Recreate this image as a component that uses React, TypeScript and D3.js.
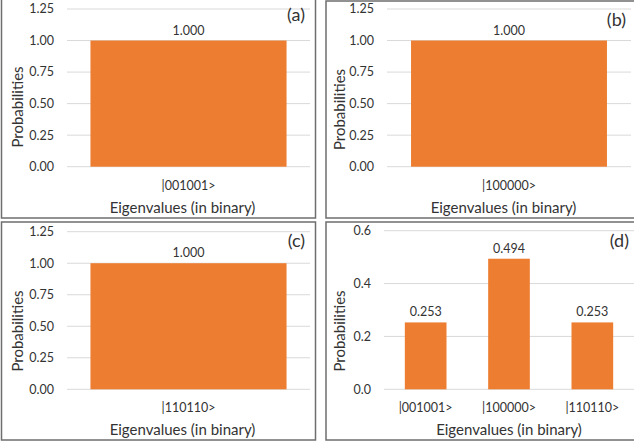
import React from 'react';
import * as d3 from 'd3';

// chart values
const panelTags = ['(a)', '(b)', '(c)', '(d)'];
const catsA = ['|001001>'];
const valsA = [1.0];
const catsB = ['|100000>'];
const valsB = [1.0];
const catsC = ['|110110>'];
const valsC = [1.0];
const catsD = ['|001001>', '|100000>', '|110110>'];
const valsD = [0.253, 0.494, 0.253];
const ticksFull = [0, 0.25, 0.5, 0.75, 1.0, 1.25];
const ticksD = [0, 0.2, 0.4, 0.6];

const yTitle = 'Probabilities';
const xTitle = 'Eigenvalues (in binary)';

const font = 'Lato, "Liberation Sans", sans-serif';
const barColor = '#ed7d31';
const gridColor = '#d9d9d9';
const textColor = '#333333';
const frameColor = '#6e6e6e';

type PanelProps = {
  tag: string;
  cats: string[];
  vals: number[];
  ticks: number[];
  fmtTick: (v: number) => string;
  frame: [number, number, number, number]; // x0, y0, x1, y1
  plot: [number, number, number, number];
  gap: number;
  yTitleX: number;
  xTitleX: number;
};

function Panel(p: PanelProps) {
  const [fx0, fy0, fx1, fy1] = p.frame;
  const [px0, py0, px1, py1] = p.plot;
  const y = d3.scaleLinear().domain([0, d3.max(p.ticks) as number]).range([py1, py0]);
  const x = d3.scaleBand<string>()
    .domain(p.cats)
    .range([px0, px1])
    .paddingInner(p.gap)
    .paddingOuter(p.gap / 2);
  const fmtVal = d3.format('.3f');
  const midY = (fy0 + fy1) / 2;

  return (
    <g fontFamily={font} fill={textColor}>
      <rect x={fx0} y={fy0} width={fx1 - fx0} height={fy1 - fy0}
        fill="white" stroke={frameColor} strokeWidth={1.5} />
      {p.ticks.map((t) => (
        <g key={t}>
          <line x1={px0} x2={px1} y1={y(t)} y2={y(t)} stroke={gridColor} strokeWidth={1} />
          <text x={px0 - 13} y={y(t)} dy="0.35em" textAnchor="end" fontSize={12.5}>
            {p.fmtTick(t)}
          </text>
        </g>
      ))}
      {p.cats.map((c, i) => (
        <g key={c}>
          <rect x={x(c)} y={y(p.vals[i])} width={x.bandwidth()} height={y(0) - y(p.vals[i])}
            fill={barColor} />
          <text x={(x(c) as number) + x.bandwidth() / 2} y={y(p.vals[i]) - 6}
            textAnchor="middle" fontSize={12.5}>
            {fmtVal(p.vals[i])}
          </text>
          <text x={(x(c) as number) + x.bandwidth() / 2} y={py1 + 23}
            textAnchor="middle" fontSize={12.5}>
            {c}
          </text>
        </g>
      ))}
      <text x={p.xTitleX} y={py1 + 46} textAnchor="middle" fontSize={15}>{xTitle}</text>
      <text transform={`translate(${p.yTitleX},${midY}) rotate(-90)`} dy="0.35em"
        textAnchor="middle" fontSize={15}>{yTitle}</text>
      <text x={px1 - 5} y={fy0 + 25} textAnchor="end" fontSize={18}>{p.tag}</text>
    </g>
  );
}

export default function App() {
  const fmt2 = d3.format('.2f');
  const fmt1 = d3.format('.1f');
  return (
    <div style={{ position: 'fixed', left: 0, top: 0, background: 'white' }}>
      <svg width={634} height={447} style={{ display: 'block' }}>
        <rect width={634} height={447} fill="white" />
        <Panel tag={panelTags[0]} cats={catsA} vals={valsA} ticks={ticksFull} fmtTick={fmt2}
          frame={[1.5, -4, 315.5, 218]} plot={[67, 9, 310, 166.7]} gap={0.193}
          yTitleX={17.5} xTitleX={182.5} />
        <Panel tag={panelTags[1]} cats={catsB} vals={valsB} ticks={ticksFull} fmtTick={fmt2}
          frame={[326, 1, 640, 218]} plot={[387, 9, 631, 166.7]} gap={0.197}
          yTitleX={340} xTitleX={503.5} />
        <Panel tag={panelTags[2]} cats={catsC} vals={valsC} ticks={ticksFull} fmtTick={fmt2}
          frame={[1.5, 222, 315.5, 440]} plot={[67, 231.7, 310, 389.3]} gap={0.193}
          yTitleX={17.5} xTitleX={182.5} />
        <Panel tag={panelTags[3]} cats={catsD} vals={valsD} ticks={ticksD} fmtTick={fmt1}
          frame={[326, 222, 640, 440]} plot={[384, 230.7, 634, 389.3]} gap={0.5}
          yTitleX={340} xTitleX={509} />
      </svg>
    </div>
  );
}
